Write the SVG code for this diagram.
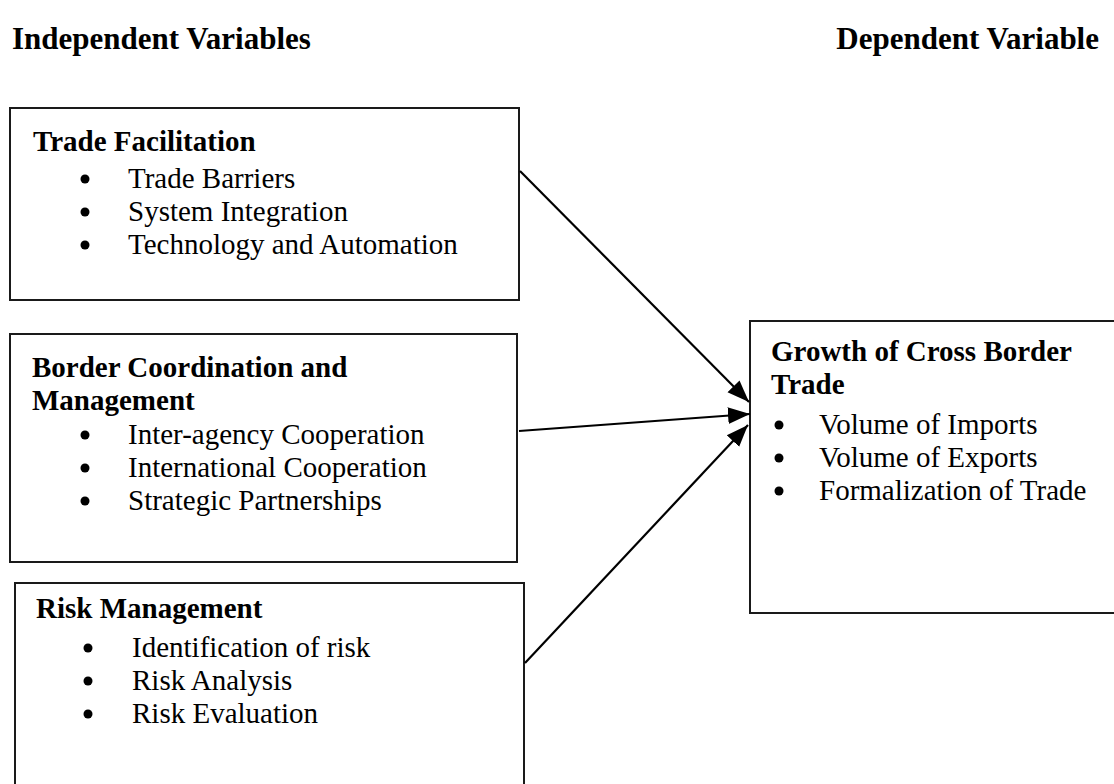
<svg xmlns="http://www.w3.org/2000/svg" width="1114" height="784" viewBox="0 0 1114 784">
  <defs>
    <style>
      .box { fill: #ffffff; stroke: #1a1a1a; stroke-width: 2; }
      .hdr { font-family: "Liberation Serif", "Times New Roman", serif; font-size: 31px; font-weight: bold; fill: #000; }
      .ttl { font-family: "Liberation Serif", "Times New Roman", serif; font-size: 29px; font-weight: bold; fill: #000; }
      .itm { font-family: "Liberation Serif", "Times New Roman", serif; font-size: 29px; fill: #000; }
      .dot { fill: #000; }
      .conn { stroke: #000; stroke-width: 2.2; fill: none; marker-end: url(#arrow); }
    </style>
    <marker id="arrow" markerUnits="userSpaceOnUse" markerWidth="24" markerHeight="20" refX="22" refY="10" orient="auto">
      <path d="M0,1.5 L22,10 L0,18.5 Z" fill="#000"/>
    </marker>
  </defs>

  <rect width="1114" height="784" fill="#ffffff"/>

  <!-- column headings -->
  <g id="headings">
    <text class="hdr" x="12" y="49">Independent Variables</text>
    <text class="hdr" x="1099" y="49" text-anchor="end">Dependent Variable</text>
  </g>

  <!-- independent variable boxes -->
  <g id="trade-facilitation">
    <rect class="box" x="10" y="108" width="509" height="192"/>
    <text class="ttl" x="33" y="151">Trade Facilitation</text>
    <circle class="dot" cx="85" cy="179" r="4.5"/>
    <text class="itm" x="128" y="188">Trade Barriers</text>
    <circle class="dot" cx="85" cy="212" r="4.5"/>
    <text class="itm" x="128" y="221">System Integration</text>
    <circle class="dot" cx="85" cy="245" r="4.5"/>
    <text class="itm" x="128" y="254">Technology and Automation</text>
  </g>

  <g id="border-coordination">
    <rect class="box" x="10" y="334" width="507" height="228"/>
    <text class="ttl" x="32" y="377">Border Coordination and</text>
    <text class="ttl" x="32" y="410">Management</text>
    <circle class="dot" cx="85" cy="435" r="4.5"/>
    <text class="itm" x="128" y="444">Inter-agency Cooperation</text>
    <circle class="dot" cx="85" cy="468" r="4.5"/>
    <text class="itm" x="128" y="477">International Cooperation</text>
    <circle class="dot" cx="85" cy="501" r="4.5"/>
    <text class="itm" x="128" y="510">Strategic Partnerships</text>
  </g>

  <g id="risk-management">
    <rect class="box" x="15" y="583" width="509" height="220"/>
    <text class="ttl" x="36" y="618">Risk Management</text>
    <circle class="dot" cx="88" cy="648" r="4.5"/>
    <text class="itm" x="132" y="657">Identification of risk</text>
    <circle class="dot" cx="88" cy="681" r="4.5"/>
    <text class="itm" x="132" y="690">Risk Analysis</text>
    <circle class="dot" cx="88" cy="714" r="4.5"/>
    <text class="itm" x="132" y="723">Risk Evaluation</text>
  </g>

  <!-- dependent variable box -->
  <g id="cross-border-trade">
    <rect class="box" x="750" y="321" width="380" height="292"/>
    <text class="ttl" x="771" y="361">Growth of Cross Border</text>
    <text class="ttl" x="771" y="394">Trade</text>
    <circle class="dot" cx="779" cy="425" r="4.5"/>
    <text class="itm" x="819" y="434">Volume of Imports</text>
    <circle class="dot" cx="779" cy="458" r="4.5"/>
    <text class="itm" x="819" y="467">Volume of Exports</text>
    <circle class="dot" cx="779" cy="491" r="4.5"/>
    <text class="itm" x="819" y="500">Formalization of Trade</text>
  </g>

  <!-- arrows into the dependent variable -->
  <g id="connectors">
    <line class="conn" x1="520" y1="171" x2="749" y2="402"/>
    <line class="conn" x1="519" y1="431" x2="750" y2="414"/>
    <line class="conn" x1="525" y1="663" x2="748" y2="425"/>
  </g>
</svg>
